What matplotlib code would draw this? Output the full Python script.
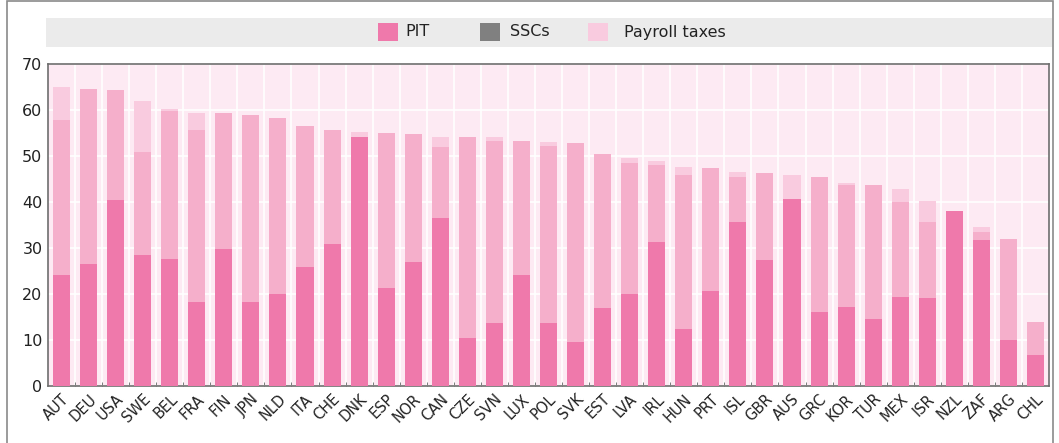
import numpy as np
import matplotlib.pyplot as plt
from matplotlib.patches import Rectangle

# datos
paises = ["AUT", "DEU", "USA", "SWE", "BEL", "FRA", "FIN", "JPN", "NLD", "ITA",
          "CHE", "DNK", "ESP", "NOR", "CAN", "CZE", "SVN", "LUX", "POL", "SVK",
          "EST", "LVA", "IRL", "HUN", "PRT", "ISL", "GBR", "AUS", "GRC", "KOR",
          "TUR", "MEX", "ISR", "NZL", "ZAF", "ARG", "CHL"]
pit = [24.1, 26.5, 40.4, 28.5, 27.6, 18.3, 29.8, 18.3, 20.0, 25.9,
       30.9, 54.1, 21.3, 27.0, 36.5, 10.5, 13.7, 24.1, 13.7, 9.6,
       17.0, 20.0, 31.3, 12.4, 20.7, 35.7, 27.4, 40.7, 16.1, 17.2,
       14.6, 19.4, 19.2, 38.0, 31.7, 10.0, 6.7]
sscs = [33.7, 38.1, 23.9, 22.4, 32.2, 37.4, 29.5, 40.6, 38.3, 30.6,
        24.8, 0.0, 33.7, 27.8, 15.5, 43.6, 39.5, 29.2, 38.5, 43.2,
        33.4, 28.4, 16.7, 33.5, 26.7, 9.7, 18.9, 0.0, 29.3, 26.4,
        29.1, 20.6, 16.5, 0.0, 1.8, 22.0, 7.2]
payroll = [7.2, 0.0, 0.0, 11.1, 0.4, 3.6, 0.0, 0.0, 0.0, 0.0,
           0.0, 1.1, 0.0, 0.0, 2.1, 0.0, 0.9, 0.0, 0.8, 0.0,
           0.0, 1.1, 0.9, 1.7, 0.0, 1.1, 0.0, 5.2, 0.0, 0.5,
           0.0, 2.8, 4.5, 0.0, 1.1, 0.0, 0.0]

c_pit = "#ef79ab"
c_ssc = "#f5afcb"
c_pay = "#f9cbdf"

W, H = 1059, 443
fig = plt.figure(figsize=(W / 100, H / 100), dpi=100)
fig.patch.set_facecolor("white")

# marco exterior y barra de leyenda
fig.patches.append(Rectangle((7 / W, -0.05), 1046 / W, 1.05 - 1 / H, transform=fig.transFigure,
                             fill=False, edgecolor="#8a8a8a", linewidth=1.2))
fig.patches.append(Rectangle((46 / W, 1 - 47 / H), 1006 / W, 29 / H, transform=fig.transFigure,
                             facecolor="#ebebeb", edgecolor="none"))

ax = fig.add_axes([48 / W, 57 / H, 1001 / W, 322 / H])
ax.set_facecolor("#fdeaf3")

x = np.arange(len(paises))
pit = np.array(pit)
sscs = np.array(sscs)
payroll = np.array(payroll)
ax.bar(x, pit, width=0.63, color=c_pit, zorder=3)
ax.bar(x, sscs, width=0.63, bottom=pit, color=c_ssc, zorder=3)
ax.bar(x, payroll, width=0.63, bottom=pit + sscs, color=c_pay, zorder=3)

ax.set_xlim(-0.5, len(paises) - 0.5)
ax.set_ylim(0, 70)
ax.set_yticks(range(0, 71, 10))
ax.set_xticks(x)
ax.set_xticklabels(paises, rotation=45, ha="right", rotation_mode="anchor",
                   fontsize=10.5, color="#222222")
ax.tick_params(axis="x", length=0, pad=4)
ax.set_xticks(x[:-1] + 0.5, minor=True)
ax.tick_params(axis="x", which="minor", direction="in", length=3, color="#666666")
ax.tick_params(axis="y", length=0, labelsize=11.5, colors="#222222", pad=4)
ax.grid(axis="y", color="white", linewidth=1.2, zorder=1)
ax.grid(axis="x", which="minor", color="white", linewidth=1.2, zorder=1)
for s in ax.spines.values():
    s.set_color("#6e6e6e")
    s.set_linewidth(1.2)

# leyenda
items = [(378, c_pit, "PIT", 405), (480, "#808080", "SSCs", 510), (588, c_pay, "Payroll taxes", 624)]
for px, col, txt, tx in items:
    fig.patches.append(Rectangle((px / W, 1 - 41 / H), 20 / W, 18 / H, transform=fig.transFigure,
                                 facecolor=col, edgecolor="none"))
    fig.text(tx / W, 1 - 32 / H, txt, fontsize=11.5, va="center", ha="left", color="#222222")

plt.savefig("out.png", dpi=100)
